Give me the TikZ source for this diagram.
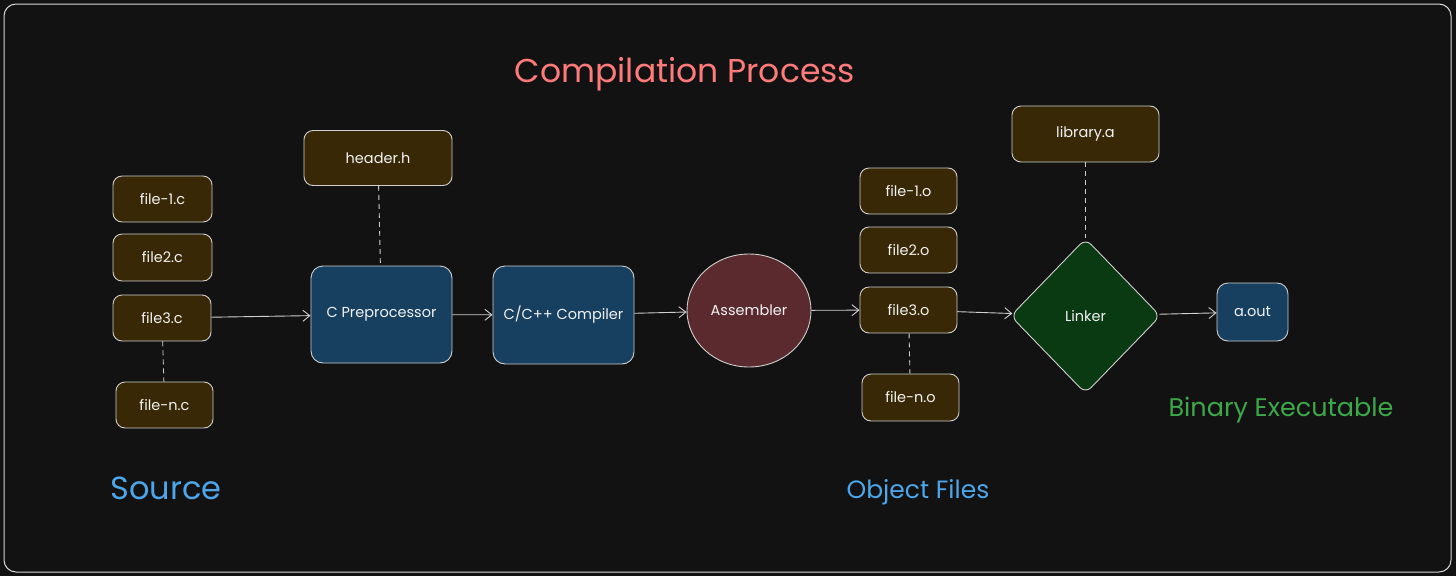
\documentclass[tikz,border=0pt]{standalone}
\usepackage{fontspec}
\setmainfont{Poppins}
\usetikzlibrary{shapes.geometric,arrows.meta}
\definecolor{bg}{HTML}{121212}
\definecolor{frameC}{HTML}{D8D8D8}
\definecolor{edgeC}{HTML}{CFCFCF}
\definecolor{brownF}{HTML}{382805}
\definecolor{blueF}{HTML}{173F60}
\definecolor{redF}{HTML}{5A2A2F}
\definecolor{greenF}{HTML}{0A3A12}
\definecolor{txtC}{HTML}{F2F2F2}
\definecolor{titleC}{HTML}{FF7B7B}
\definecolor{lblBlue}{HTML}{4DA6EA}
\definecolor{lblGreen}{HTML}{3DA84A}
\tikzset{
  base/.style={draw=edgeC, line width=0.9pt, text=txtC, inner sep=0pt,
    font=\fontsize{14.5}{17}\selectfont},
  filebox/.style={base, rectangle, rounded corners=9pt, fill=brownF},
  procbox/.style={base, rectangle, rounded corners=12pt, fill=blueF},
  arr/.style={draw=edgeC, line width=0.9pt, -{Straight Barb[length=7pt,width=11pt]}},
  dashln/.style={draw=edgeC, line width=0.9pt, dash pattern=on 5pt off 4pt},
  lbl/.style={inner sep=0pt}
}
\begin{document}
\begin{tikzpicture}[x=1pt,y=-1pt]
\fill[bg] (0,0) rectangle (1456,576);
\useasboundingbox (0,0) rectangle (1456,576);
\draw[frameC, line width=1pt, rounded corners=12pt] (4,4) rectangle (1451,572);

\node[lbl, text=titleC, font=\fontsize{33}{37}\selectfont] (title) at (685,74) {Compilation Process};

\node[filebox, minimum width=99pt, minimum height=46pt] (f1c) at (162.5,199) {file-1.c};
\node[filebox, minimum width=99pt, minimum height=47pt] (f2c) at (162.5,257.5) {file2.c};
\node[filebox, minimum width=98pt, minimum height=46pt] (f3c) at (162,318) {file3.c};
\node[filebox, minimum width=97pt, minimum height=46pt] (fnc) at (164.5,405) {file-n.c};

\node[filebox, minimum width=148pt, minimum height=55pt] (hdr) at (378,158) {header.h};
\node[procbox, minimum width=141pt, minimum height=97pt] (pre) at (381.5,314.5) {C Preprocessor};
\node[procbox, minimum width=141pt, minimum height=98pt] (cmp) at (563.5,315) {C/C++ Compiler};
\node[base, ellipse, fill=redF, minimum width=124pt, minimum height=113pt] (asm) at (749,310.5) {Assembler};

\node[filebox, minimum width=97pt, minimum height=46pt] (f1o) at (908.5,191) {file-1.o};
\node[filebox, minimum width=97pt, minimum height=46pt] (f2o) at (908.5,250) {file2.o};
\node[filebox, minimum width=97pt, minimum height=46pt] (f3o) at (908.5,310) {file3.o};
\node[filebox, minimum width=97pt, minimum height=47pt] (fno) at (910.5,397.5) {file-n.o};

\node[filebox, minimum width=147pt, minimum height=56pt] (lib) at (1085.5,134) {library.a};
\node[base, diamond, fill=greenF, rounded corners=8pt, minimum width=150pt, minimum height=155pt] (lnk) at (1085.5,316) {Linker};
\node[procbox, rounded corners=11pt, minimum width=71pt, minimum height=58pt] (aout) at (1252.5,312) {a.out};

\node[lbl, text=lblBlue, font=\fontsize{32}{36}\selectfont] (src) at (166,488) {Source};
\node[lbl, text=lblBlue, font=\fontsize{25}{29}\selectfont] (obj) at (918,492) {Object Files};
\node[lbl, text=lblGreen, font=\fontsize{25.5}{29}\selectfont] (bin) at (1281,410) {Binary Executable};

\draw[dashln] (f3c) -- (fnc);
\draw[dashln] (hdr) -- (pre);
\draw[dashln] (f3o) -- (fno);
\draw[dashln] (lib) -- (lnk);

\draw[arr] (f3c) -- (pre);
\draw[arr] (pre) -- (cmp);
\draw[arr] (cmp) -- (asm);
\draw[arr] (asm) -- (f3o);
\draw[arr] (f3o) -- (lnk);
\draw[arr] (lnk) -- (aout);
\end{tikzpicture}
\end{document}
